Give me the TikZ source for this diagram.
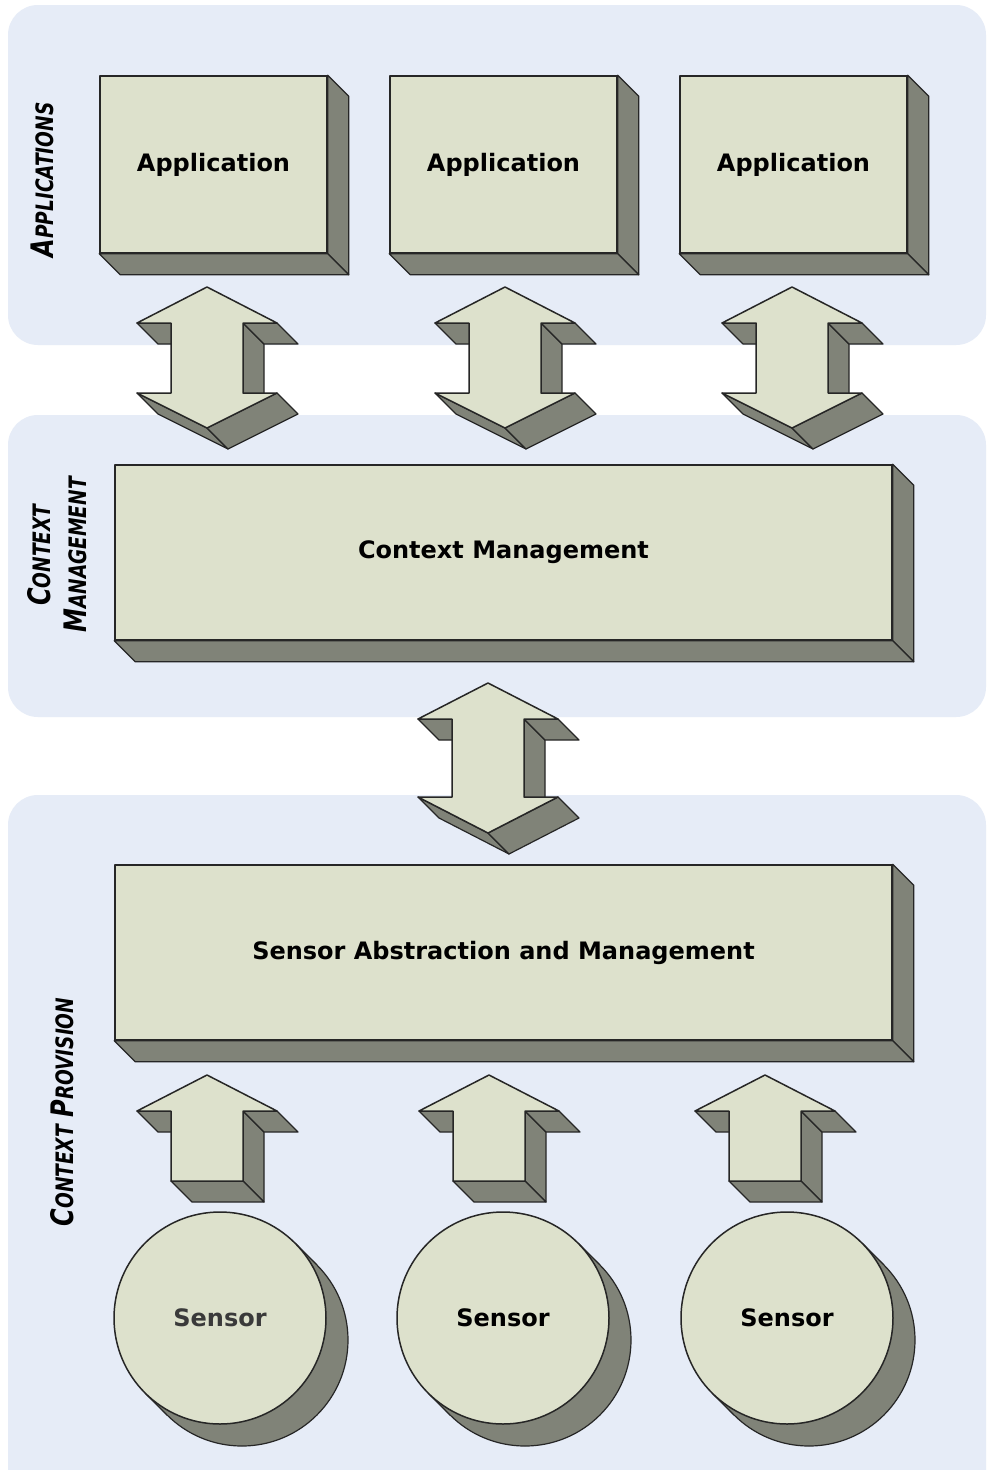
\documentclass[tikz,border=0pt]{standalone}
\usepackage{fontspec}
\newfontfamily\labelfont{DejaVu Sans}
\newfontfamily\tierfont{DejaVu Sans Condensed}

\definecolor{tierbg}{RGB}{230,236,247}
\definecolor{face}{RGB}{221,225,204}
\definecolor{side}{RGB}{128,131,120}
\definecolor{edge}{RGB}{38,38,38}
\definecolor{softtext}{RGB}{58,58,58}

\tikzset{
  tier/.style={fill=tierbg, draw=none, rounded corners=30pt},
  frontface/.style={fill=face, draw=edge, line width=1.5pt, line join=round},
  sideface/.style={fill=side, draw=edge, line width=1.2pt, line join=round},
  boxtext/.style={font=\labelfont\bfseries\fontsize{24}{28}\selectfont, text=black},
  frontbox/.style={frontface, rectangle, inner sep=0pt, boxtext},
  sensorbox/.style={frontface, circle, inner sep=0pt, minimum size=212pt, boxtext},
  tiertag/.style={font=\tierfont\bfseries\itshape\fontsize{24}{36}\selectfont,
                  rotate=90, align=center, text=black, inner sep=0pt},
}

% small-caps look: large initial, condensed
\newcommand{\tagword}[2]{\scalebox{0.86}[1]{{\fontsize{31}{36}\selectfont #1}#2}}

% extruded side faces of a slab whose front face is node #1
\newcommand{\slabsides}[1]{%
  \draw[sideface] (#1.north east) -- ++(21,21) -- ($(#1.south east)+(21,21)$) -- (#1.south east) -- cycle;
  \draw[sideface] (#1.south west) -- (#1.south east) -- ++(21,21) -- ($(#1.south west)+(21,21)$) -- cycle;
}

% 3-D double-headed block arrow: centre x, top tip, upper head base, lower head base, bottom tip
\newcommand{\dblarrow}[5]{%
  \def\cx{#1}\def\ty{#2}\def\ha{#3}\def\hb{#4}\def\by{#5}%
  \draw[sideface] ({\cx-70},\ha) -- ({\cx-36},\ha) -- ({\cx-15},{\ha+21}) -- ({\cx-49},{\ha+21}) -- cycle;
  \draw[sideface] ({\cx+36},\ha) -- ({\cx+57},{\ha+21}) -- ({\cx+57},{\hb+21}) -- ({\cx+36},\hb) -- cycle;
  \draw[sideface] ({\cx+36},\ha) -- ({\cx+70},\ha) -- ({\cx+91},{\ha+21}) -- ({\cx+57},{\ha+21}) -- cycle;
  \draw[sideface] ({\cx-70},\hb) -- (\cx,\by) -- ({\cx+21},{\by+21}) -- ({\cx-49},{\hb+21}) -- cycle;
  \draw[sideface] ({\cx+70},\hb) -- (\cx,\by) -- ({\cx+21},{\by+21}) -- ({\cx+91},{\hb+21}) -- cycle;
  \draw[frontface] (\cx,\ty) -- ({\cx+70},\ha) -- ({\cx+36},\ha) -- ({\cx+36},\hb) -- ({\cx+70},\hb)
    -- (\cx,\by) -- ({\cx-70},\hb) -- ({\cx-36},\hb) -- ({\cx-36},\ha) -- ({\cx-70},\ha) -- cycle;
}

% 3-D upward block arrow: centre x, tip, head base, shaft bottom
\newcommand{\uparrowblk}[4]{%
  \def\cx{#1}\def\ty{#2}\def\ha{#3}\def\sb{#4}%
  \draw[sideface] ({\cx-70},\ha) -- ({\cx-36},\ha) -- ({\cx-15},{\ha+21}) -- ({\cx-49},{\ha+21}) -- cycle;
  \draw[sideface] ({\cx+36},\ha) -- ({\cx+57},{\ha+21}) -- ({\cx+57},{\sb+21}) -- ({\cx+36},\sb) -- cycle;
  \draw[sideface] ({\cx+36},\ha) -- ({\cx+70},\ha) -- ({\cx+91},{\ha+21}) -- ({\cx+57},{\ha+21}) -- cycle;
  \draw[sideface] ({\cx-36},\sb) -- ({\cx+36},\sb) -- ({\cx+57},{\sb+21}) -- ({\cx-15},{\sb+21}) -- cycle;
  \draw[frontface] (\cx,\ty) -- ({\cx+70},\ha) -- ({\cx+36},\ha) -- ({\cx+36},\sb)
    -- ({\cx-36},\sb) -- ({\cx-36},\ha) -- ({\cx-70},\ha) -- cycle;
}

% cylinder-shaped sensor: name, centre x, centre y, text colour
\newcommand{\sensor}[4]{%
  \draw[sideface] ({#2+22},{#3+22}) circle [radius=106pt];
  \fill[side] ({#2+75},{#3-75}) -- ({#2+97},{#3-53}) -- ({#2-53},{#3+97}) -- ({#2-75},{#3+75}) -- cycle;
  \draw[edge, line width=1.2pt] ({#2+75},{#3-75}) -- ({#2+97},{#3-53});
  \draw[edge, line width=1.2pt] ({#2-75},{#3+75}) -- ({#2-53},{#3+97});
  \node[sensorbox, text=#4] (#1) at (#2,#3) {Sensor};
}

\usetikzlibrary{calc}

\begin{document}
\begin{tikzpicture}[x=1pt, y=-1pt]
  \useasboundingbox (0,0) rectangle (988,1470);
  \clip (0,0) rectangle (988,1470);
  \fill[white] (0,0) rectangle (988,1470);

  % tiers
  \fill[tier] (8,5) rectangle (986,345);
  \fill[tier] (8,415) rectangle (986,717);
  \fill[tier] (8,795) rectangle (986,1500);

  % tier captions
  \node[tiertag] (tagapps) at (42,180) {\tagword{A}{PPLICATIONS}};
  \node[tiertag] (tagctx) at (57,555) {\tagword{C}{ONTEXT}\\\tagword{M}{ANAGEMENT}};
  \node[tiertag] (tagprov) at (62,1112) {\tagword{C}{ONTEXT} \tagword{P}{ROVISION}};

  % applications
  \node[frontbox, minimum width=227pt, minimum height=177pt] (app1) at (213.5,164.5) {Application};
  \node[frontbox, minimum width=227pt, minimum height=177pt] (app2) at (503.5,164.5) {Application};
  \node[frontbox, minimum width=227pt, minimum height=177pt] (app3) at (793.5,164.5) {Application};
  \slabsides{app1}
  \slabsides{app2}
  \slabsides{app3}

  % application <-> context management
  \dblarrow{207}{287}{323}{393}{428}
  \dblarrow{505}{287}{323}{393}{428}
  \dblarrow{792}{287}{323}{393}{428}

  % context management
  \node[frontbox, minimum width=777pt, minimum height=175pt] (ctx) at (503.5,552.5) {Context Management};
  \slabsides{ctx}

  % context management <-> sensor layer
  \dblarrow{488}{683}{719}{797}{833}

  % sensor abstraction
  \node[frontbox, minimum width=777pt, minimum height=175pt] (sam) at (503.5,952.5) {Sensor Abstraction and Management};
  \slabsides{sam}

  % sensor -> abstraction
  \uparrowblk{207}{1075}{1111}{1181}
  \uparrowblk{489}{1075}{1111}{1181}
  \uparrowblk{765}{1075}{1111}{1181}

  % sensors
  \sensor{sen1}{220}{1318}{softtext}
  \sensor{sen2}{503}{1318}{black}
  \sensor{sen3}{787}{1318}{black}
\end{tikzpicture}
\end{document}
